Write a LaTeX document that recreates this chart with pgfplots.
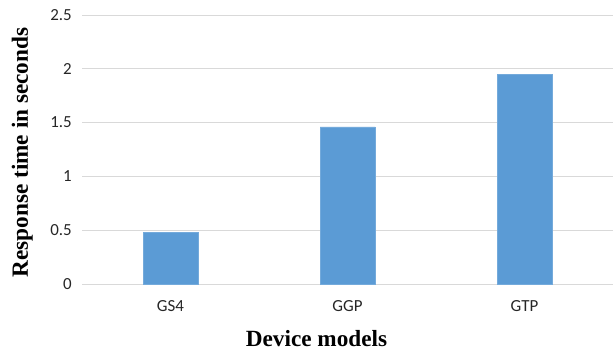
\documentclass[border=0pt]{standalone}
\usepackage{fontspec}
\setmainfont{Carlito}
\newfontfamily\labelfont{Liberation Serif}
\usepackage{pgfplots}
\pgfplotsset{compat=1.18}

\definecolor{barblue}{HTML}{5B9BD5}
\definecolor{gridgray}{HTML}{D9D9D9}

\begin{document}
\begin{tikzpicture}
% fixed canvas around the plot area
\useasboundingbox (-82bp,-68bp) rectangle (532bp,284bp);
\begin{axis}[
    scale only axis,
    width=531bp, height=269bp,
    xmin=-0.5, xmax=2.5,
    ymin=0, ymax=2.5,
    ytick={0,0.5,1,1.5,2,2.5},
    xtick=data,
    xticklabels={GS4,GGP,GTP},
    axis line style={draw=none},
    major tick length=0pt,
    ymajorgrids,
    grid style={gridgray, line width=0.9bp},
    /pgf/number format/assume math mode=true,
    tick label style={font=\fontsize{17}{19}\selectfont, text=black!85, inner sep=0pt},
    yticklabel style={anchor=east, xshift=-10bp},
    xticklabel style={anchor=north, yshift=-16bp},
    xlabel={Device models},
    ylabel={Response time in seconds},
    label style={font=\labelfont\bfseries\fontsize{23.3}{26}\selectfont, inner sep=0pt},
    xlabel style={at={(axis description cs:0.4416,0)}, anchor=base, yshift=-62.5bp},
    ylabel style={at={(axis description cs:-0.1017,0.489)}, anchor=base},
    clip=false,
]
\addplot[ybar, bar width=55bp, fill=barblue, draw=barblue!85!white, line width=0.5bp]
    coordinates {(0,0.48) (1,1.46) (2,1.95)};
\end{axis}
\end{tikzpicture}
\end{document}
